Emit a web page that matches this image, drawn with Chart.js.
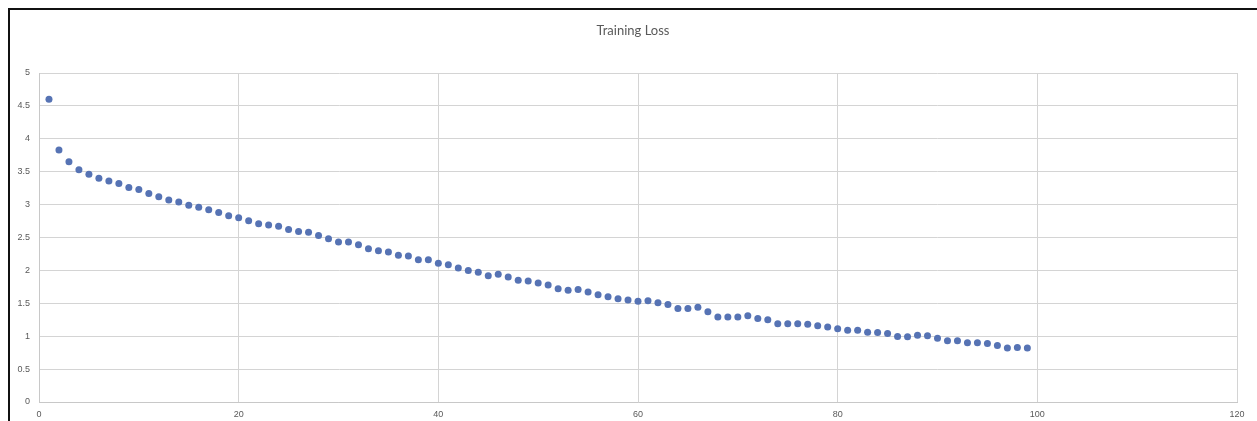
<!DOCTYPE html>
<html>
<head>
<meta charset="utf-8">
<title>Training Loss</title>
<script src="https://cdn.jsdelivr.net/npm/chart.js@4/dist/chart.umd.min.js"></script>
<style>
  html, body { margin: 0; padding: 0; background: #ffffff; overflow: hidden; }
  #frame {
    position: absolute; left: 8px; top: 8px; width: 1300px; height: 500px;
    border-left: 2px solid #111111; border-top: 2px solid #111111;
    box-sizing: border-box; pointer-events: none; z-index: 2;
  }
  #chart { position: absolute; left: 0; top: 0; }
</style>
</head>
<body>
<div id="frame"></div>
<canvas id="chart" width="1257" height="421"></canvas>
<script>
// Epoch numbers on the horizontal axis
const epochs = [
  1, 2, 3, 4, 5, 6, 7, 8, 9, 10,
  11, 12, 13, 14, 15, 16, 17, 18, 19, 20,
  21, 22, 23, 24, 25, 26, 27, 28, 29, 30,
  31, 32, 33, 34, 35, 36, 37, 38, 39, 40,
  41, 42, 43, 44, 45, 46, 47, 48, 49, 50,
  51, 52, 53, 54, 55, 56, 57, 58, 59, 60,
  61, 62, 63, 64, 65, 66, 67, 68, 69, 70,
  71, 72, 73, 74, 75, 76, 77, 78, 79, 80,
  81, 82, 83, 84, 85, 86, 87, 88, 89, 90,
  91, 92, 93, 94, 95, 96, 97, 98, 99
];

// Training loss recorded at the end of each epoch
const loss = [
  4.60, 3.83, 3.65, 3.53, 3.46, 3.40, 3.36, 3.32, 3.26, 3.23,
  3.17, 3.12, 3.07, 3.04, 2.99, 2.96, 2.92, 2.88, 2.83, 2.80,
  2.755, 2.71, 2.69, 2.67, 2.62, 2.59, 2.58, 2.53, 2.48, 2.43,
  2.43, 2.39, 2.33, 2.30, 2.28, 2.23, 2.22, 2.16, 2.16, 2.11,
  2.085, 2.035, 2.00, 1.97, 1.92, 1.94, 1.90, 1.85, 1.84, 1.81,
  1.78, 1.72, 1.70, 1.71, 1.67, 1.63, 1.60, 1.57, 1.55, 1.53,
  1.54, 1.51, 1.48, 1.42, 1.42, 1.44, 1.37, 1.29, 1.29, 1.29,
  1.31, 1.27, 1.25, 1.19, 1.19, 1.19, 1.18, 1.16, 1.14, 1.115,
  1.09, 1.09, 1.06, 1.055, 1.04, 0.995, 0.99, 1.015, 1.005, 0.97,
  0.93, 0.93, 0.90, 0.90, 0.89, 0.86, 0.82, 0.83, 0.82
];

// Axis ranges and tick spacing
const xTicks = { min: 0, max: 120, step: 20 };
const yTicks = { min: 0, max: 5, step: 0.5 };

const points = epochs.map((e, i) => ({ x: e, y: loss[i] }));

const gridColor = '#d4d4d4';
const labelColor = '#595959';
const tickFont = { family: '"Liberation Sans", sans-serif', size: 9 };

// Centre the title over the plot area rather than the whole canvas
const titleOverPlot = {
  id: 'titleOverPlot',
  afterLayout(chart) {
    if (chart.titleBlock) {
      chart.titleBlock.left = chart.chartArea.left - 10;
    }
  }
};

new Chart(document.getElementById('chart'), {
  type: 'scatter',
  data: {
    datasets: [{
      label: 'Training Loss',
      data: points,
      backgroundColor: '#5673b4',
      borderColor: '#5673b4',
      pointRadius: 3.5,
      pointHoverRadius: 3.5,
      borderWidth: 0
    }]
  },
  plugins: [titleOverPlot],
  options: {
    responsive: false,
    animation: false,
    devicePixelRatio: 1,
    layout: { padding: { left: 0, right: 20, top: 0, bottom: 0 } },
    plugins: {
      legend: { display: false },
      tooltip: { enabled: false },
      title: {
        display: true,
        text: 'Training Loss',
        color: labelColor,
        font: { family: 'Lato, "Open Sans", sans-serif', size: 13, weight: 'normal' },
        padding: { top: 23, bottom: 34.4 }
      }
    },
    scales: {
      x: {
        type: 'linear',
        min: xTicks.min,
        max: xTicks.max,
        afterFit: (s) => { s.height = 19; },
        grid: { color: gridColor, lineWidth: 1, drawTicks: false },
        border: { color: '#c8c8c8', width: 1 },
        ticks: {
          stepSize: xTicks.step,
          color: labelColor,
          padding: 7,
          maxRotation: 0,
          font: tickFont,
          callback: (v) => String(v)
        }
      },
      y: {
        type: 'linear',
        min: yTicks.min,
        max: yTicks.max,
        afterFit: (s) => { s.width = 39; },
        grid: { color: gridColor, lineWidth: 1, drawTicks: false },
        border: { color: '#c8c8c8', width: 1 },
        ticks: {
          stepSize: yTicks.step,
          color: labelColor,
          padding: 9,
          font: tickFont,
          callback: (v) => String(v)
        }
      }
    }
  }
});
</script>
</body>
</html>
